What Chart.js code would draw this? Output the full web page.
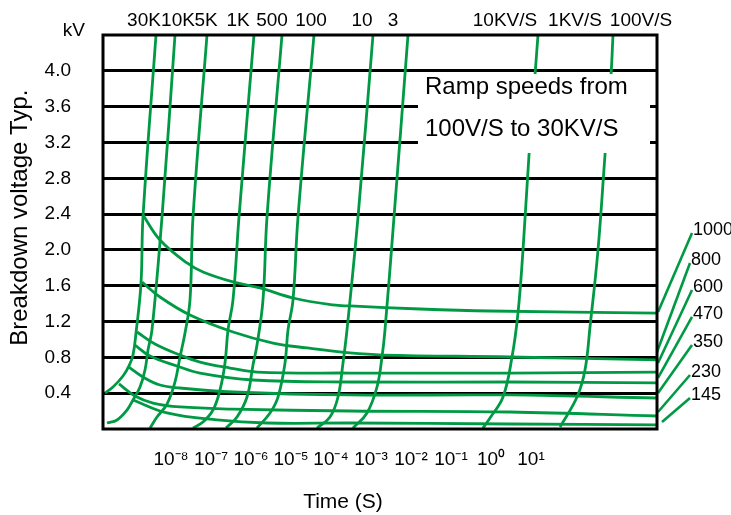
<!DOCTYPE html>
<html>
<head>
<meta charset="utf-8">
<script src="https://cdn.jsdelivr.net/npm/chart.js@4.4.1/dist/chart.umd.min.js"></script>
<style>
  html, body { margin: 0; padding: 0; background: #fff; }
  #wrap { width: 731px; height: 515px; }
</style>
</head>
<body>
<div id="wrap"><canvas id="chart"></canvas></div>
<script>
// x = log10(time / s), y = breakdown voltage in kV
const decades = [-8, -7, -6, -5, -4, -3, -2, -1, 0, 1];
const voltTicks = [0.4, 0.8, 1.2, 1.6, 2.0, 2.4, 2.8, 3.2, 3.6, 4.0];

// ramp speed lines
const rampNames = ['30K', '10K', '5K', '1K', '500', '100', '10', '3', '10KV/S', '1KV/S', '100V/S'];
const ramp30K = [[-8.375, 4.4], [-8.7, 2.367], [-8.75, 1.63], [-8.875, 1.072], [-8.95, 0.826], [-9.05, 0.704], [-9.2, 0.592], [-9.45, 0.469], [-9.65, 0.402]];
const ramp10K = [[-7.9, 4.4], [-8.225, 2.367], [-8.475, 1.106], [-8.575, 0.882], [-8.65, 0.659], [-8.775, 0.469], [-8.95, 0.324], [-9.1, 0.212], [-9.35, 0.101], [-9.6, 0.067]];
const ramp5K = [[-7.1, 4.4], [-7.45, 2.367], [-7.525, 1.441], [-7.65, 1.072], [-7.775, 0.804], [-7.9, 0.525], [-8.1, 0.279], [-8.35, 0.134], [-8.525, 0.011]];
const ramp1K = [[-5.925, 4.4], [-6.3, 2.367], [-6.45, 1.441], [-6.575, 1.106], [-6.65, 0.737], [-6.775, 0.436], [-6.95, 0.212], [-7.2, 0.078], [-7.45, 0.011]];
const ramp500 = [[-5.225, 4.4], [-5.6, 2.367], [-5.7, 1.441], [-5.85, 0.938], [-5.95, 0.715], [-6.1, 0.357], [-6.35, 0.134], [-6.625, 0.011]];
const ramp100 = [[-4.425, 4.4], [-4.825, 2.367], [-4.95, 1.441], [-5.075, 1.106], [-5.15, 0.737], [-5.325, 0.357], [-5.525, 0.179], [-5.85, 0.011]];
const ramp10 = [[-2.95, 4.4], [-3.325, 2.367], [-3.6, 1.106], [-3.7, 0.737], [-3.825, 0.357], [-4.025, 0.134], [-4.35, 0.011]];
const ramp3 = [[-2.075, 4.4], [-2.425, 2.367], [-2.65, 1.106], [-2.725, 0.804], [-2.85, 0.469], [-3.1, 0.179], [-3.45, 0.011]];
const ramp10KVs = [[1.175, 4.4], [1.1, 3.953], [0.95, 3.06], [0.8, 1.999], [0.675, 1.295], [0.525, 0.804], [0.3, 0.357], [-0.025, 0.123], [-0.2, 0.011]];
const ramp100Vs = [[3.05, 4.4], [3.0, 3.953], [2.85, 3.06], [2.675, 1.999], [2.475, 1.139], [2.35, 0.659], [2.15, 0.357], [1.725, 0.022]];
const rampLines = [ramp30K, ramp10K, ramp5K, ramp1K, ramp500, ramp100, ramp10, ramp3, ramp10KVs, ramp100Vs];

// breakdown curves per thickness
const curveNames = ['1000', '800', '600', '470', '350', '230', '145'];
const curve1000 = [[-8.7, 2.39], [-8.275, 2.111], [-7.6, 1.854], [-7.2, 1.753], [-6.45, 1.642], [-5.775, 1.575], [-4.95, 1.463], [-3.95, 1.385], [-3.525, 1.374], [-1.775, 1.34], [-0.025, 1.318], [4.15, 1.295]];
const curve800 = [[-8.725, 1.642], [-8.275, 1.474], [-7.525, 1.273], [-6.45, 1.083], [-5.45, 0.96], [-4.6, 0.905], [-3.525, 0.849], [-2.7, 0.826], [0.475, 0.804], [4.15, 0.771]];
const curve600 = [[-8.85, 1.083], [-8.4, 0.949], [-7.775, 0.826], [-7.275, 0.748], [-6.525, 0.681], [-5.85, 0.636], [-3.525, 0.625], [0.475, 0.625], [4.15, 0.636]];
const curve470 = [[-8.9, 0.938], [-8.525, 0.815], [-7.85, 0.704], [-7.275, 0.625], [-5.95, 0.547], [-3.525, 0.525], [0.475, 0.525], [4.15, 0.514]];
const curve350 = [[-9.05, 0.692], [-8.7, 0.581], [-8.275, 0.491], [-7.775, 0.458], [-6.45, 0.413], [-3.525, 0.38], [0.475, 0.38], [4.15, 0.346]];
const curve230 = [[-9.3, 0.503], [-8.9, 0.369], [-8.45, 0.29], [-7.775, 0.246], [-6.45, 0.223], [-3.525, 0.201], [0.475, 0.19], [4.15, 0.145]];
const curve145 = [[-8.95, 0.324], [-8.1, 0.179], [-6.85, 0.101], [-5.6, 0.067], [-3.525, 0.067], [0.475, 0.056], [4.15, 0.045]];
const curves = [curve1000, curve800, curve600, curve470, curve350, curve230, curve145];

// leader lines from curve ends to their labels
const leaders = [
  [[4.175, 1.307], [5.025, 2.189]],
  [[4.15, 0.86], [4.975, 1.854]],
  [[4.175, 0.737], [5.025, 1.552]],
  [[4.175, 0.57], [5.025, 1.251]],
  [[4.175, 0.402], [5.025, 0.938]],
  [[4.175, 0.19], [4.975, 0.603]],
  [[4.275, 0.078], [4.975, 0.346]]
];

const boxText = ['Ramp speeds from', '100V/S to 30KV/S'];
const yTitle = 'Breakdown voltage Typ.';
const xTitle = 'Time (S)';

const GREEN = '#009a44';
const FONT = '"Liberation Sans", Arial, sans-serif';
const SUP = { '-': '\u207b', '0': '\u2070', '1': '\u00b9', '2': '\u00b2', '3': '\u00b3', '4': '\u2074', '5': '\u2075', '6': '\u2076', '7': '\u2077', '8': '\u2078', '9': '\u2079' };

function greenLine(points, extra) {
    return Object.assign({
        data: points,
        showLine: true,
        borderColor: GREEN,
        borderWidth: 2.8,
        pointRadius: 0,
        tension: 0.4,
        fill: false
    }, extra || {});
}

const datasets = [];
rampLines.forEach(p => datasets.push(greenLine(p)));
curves.forEach(p => datasets.push(greenLine(p)));
leaders.forEach((p, i) => datasets.push(greenLine(p, { tension: 0, clip: false, borderWidth: 2.6, isLeader: true, tag: curveNames[i] })));

const decor = {
    id: 'decor',
    afterDatasetsDraw(chart, args, opts) {
        const { ctx, chartArea: a, scales: { x, y } } = chart;
        ctx.save();

        // text box over the upper right
        const bx0 = x.getPixelForValue(opts.box[0]);
        const bx1 = x.getPixelForValue(opts.box[1]);
        const by0 = y.getPixelForValue(opts.box[2]);
        const by1 = y.getPixelForValue(opts.box[3]);
        ctx.fillStyle = '#fff';
        ctx.fillRect(bx0, by0, bx1 - bx0, by1 - by0);
        ctx.fillStyle = '#000';
        ctx.font = '24px ' + FONT;
        ctx.textAlign = 'left';
        ctx.textBaseline = 'alphabetic';
        ctx.fillText(boxText[0], bx0 + 7, by0 + 20);
        ctx.fillText(boxText[1], bx0 + 7, by0 + 62);

        // frame
        ctx.strokeStyle = '#000';
        ctx.lineWidth = 3;
        ctx.strokeRect(a.left, a.top, a.right - a.left, a.bottom - a.top);

        // ramp labels on top
        ctx.font = '19px ' + FONT;
        ctx.textAlign = 'center';
        ctx.textBaseline = 'middle';
        rampNames.forEach((t, i) => ctx.fillText(t, x.getPixelForValue(opts.topAt[i]), a.top - 14));

        // unit
        ctx.textAlign = 'right';
        ctx.fillText('kV', a.left - 18, a.top - 4);

        // thickness labels at leader ends
        ctx.font = '18px ' + FONT;
        ctx.textAlign = 'left';
        chart.data.datasets.forEach((ds, i) => {
            if (!ds.isLeader) return;
            const p = chart.getDatasetMeta(i).data[1];
            ctx.fillText(ds.tag, p.x + 1, p.y - 3);
        });

        // axis titles
        ctx.font = '21px ' + FONT;
        ctx.textAlign = 'center';
        ctx.fillText(xTitle, x.getPixelForValue(opts.xTitleAt), a.bottom + 73);
        ctx.font = '24px ' + FONT;
        ctx.translate(20, y.getPixelForValue(opts.yTitleAt));
        ctx.rotate(-Math.PI / 2);
        ctx.fillText(yTitle, 0, 0);
        ctx.restore();
    }
};

new Chart(document.getElementById('chart'), {
    type: 'scatter',
    data: { datasets: datasets },
    options: {
        responsive: true,
        maintainAspectRatio: false,
        animation: false,
        layout: { padding: { top: 35, right: 74, left: 0, bottom: 0 } },
        plugins: {
            legend: { display: false },
            tooltip: { enabled: false },
            decor: {
                box: [-1.825, 3.975, 3.964, 3.082],
                topAt: [-8.675, -7.825, -7.125, -6.325, -5.475, -4.5, -3.225, -2.45, 0.35, 2.1, 3.75],
                yTitleAt: 2.36,
                xTitleAt: -3.7
            }
        },
        scales: {
            x: {
                type: 'linear',
                min: -9.7,
                max: 4.15,
                afterBuildTicks: s => { s.ticks = decades.map(v => ({ value: v })); },
                afterFit: s => { s.height = 86; s.paddingLeft = 0; s.paddingRight = 0; },
                grid: { display: false, drawTicks: false },
                border: { display: false },
                ticks: {
                    autoSkip: false,
                    maxRotation: 0,
                    padding: 19,
                    color: '#000',
                    font: { family: FONT, size: 19 },
                    callback: v => '10' + String(v).split('').map(c => SUP[c]).join('')
                }
            },
            y: {
                min: 0,
                max: 4.4,
                afterBuildTicks: s => { s.ticks = voltTicks.map(v => ({ value: v })); },
                afterFit: s => { s.width = 103; s.paddingTop = 0; s.paddingBottom = 0; },
                grid: { color: '#000', lineWidth: 3, drawTicks: false },
                border: { display: false },
                ticks: {
                    autoSkip: false,
                    padding: 32,
                    color: '#000',
                    font: { family: FONT, size: 19 },
                    callback: v => v.toFixed(1)
                }
            }
        }
    },
    plugins: [decor]
});
</script>
</body>
</html>
